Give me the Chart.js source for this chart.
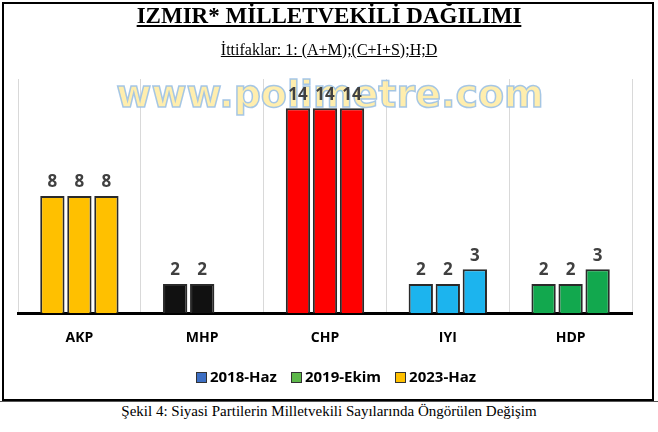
<!DOCTYPE html>
<html>
<head>
<meta charset="utf-8">
<script src="https://cdn.jsdelivr.net/npm/chart.js@4"></script>
<style>
  body { margin: 0; width: 658px; height: 432px; background: #fff; position: relative; overflow: hidden; }
  #frame { position: absolute; left: 2px; top: 2px; width: 648px; height: 395px; border: 2px solid #000; }
  #rule { position: absolute; left: 0; top: 401px; width: 658px; border-top: 1px solid #555; }
  .serif { font-family: "Liberation Serif", "DejaVu Serif", serif; position: absolute; left: 0; width: 658px; text-align: center; }
  #title { top: 3px; font-size: 23px; font-weight: bold; text-decoration: underline; }
  #sub { top: 41px; font-size: 16px; text-decoration: underline; }
  #caption { top: 403px; font-size: 15px; }
  #chartBox { position: absolute; left: 0; top: 0; width: 658px; height: 376px; }
  #legend { position: absolute; top: 366px; left: 0; width: 658px; text-align: center; font: bold 15px "Open Sans", sans-serif; }
  #legend span.sq { display: inline-block; width: 9px; height: 9px; border: 1px solid #333; margin: 0 3px 0 14px; vertical-align: -1px; }
</style>
</head>
<body>
<div id="frame"></div>
<div id="rule"></div>
<div id="chartBox"><canvas id="chart"></canvas></div>
<div class="serif" id="title">IZMIR* MİLLETVEKİLİ DAĞILIMI</div>
<div class="serif" id="sub">İttifaklar: 1: (A+M);(C+I+S);H;D</div>
<div id="legend"></div>
<div class="serif" id="caption">Şekil 4: Siyasi Partilerin Milletvekili Sayılarında Öngörülen Değişim</div>
<script>
const parties = ["AKP", "MHP", "CHP", "IYI", "HDP"];
const seriesNames = ["2018-Haz", "2019-Ekim", "2023-Haz"];
const seats2018 = [8, 2, 14, 2, 2];
const seats2019 = [8, 2, 14, 2, 2];
const seats2023 = [8, null, 14, 3, 3];
const partyColors = ["#FFC000", "#111111", "#FF0000", "#1CB4EE", "#12A84E"];
const legendColors = ["#3D6FC4", "#5DB84A", "#FFC000"];

document.getElementById('legend').innerHTML = seriesNames.map((n, i) =>
  `<span class="sq" style="background:${legendColors[i]}"></span>${n}`).join('');

const valueLabels = {
  id: 'valueLabels',
  afterDatasetsDraw(chart) {
    const ctx = chart.ctx;
    ctx.save();
    ctx.font = 'bold 17px "Open Sans", sans-serif';
    ctx.fillStyle = '#404040';
    ctx.textAlign = 'center';
    ctx.textBaseline = 'bottom';
    chart.data.datasets.forEach((ds, di) => {
      chart.getDatasetMeta(di).data.forEach((bar, i) => {
        if (ds.data[i] == null) return;
        ctx.fillText(ds.data[i], bar.x, bar.y - 5);
      });
    });
    ctx.restore();
  }
};

const watermark = {
  id: 'watermark',
  beforeDatasetsDraw(chart) {
    const ctx = chart.ctx;
    ctx.save();
    ctx.font = 'bold 38px "DejaVu Sans", sans-serif';
    ctx.textAlign = 'center';
    ctx.textBaseline = 'middle';
    ctx.fillStyle = 'rgba(255,235,160,0.85)';
    ctx.strokeStyle = 'rgba(150,190,230,0.85)';
    ctx.lineWidth = 1.5;
    ctx.fillText('www.polimetre.com', 330, 97);
    ctx.strokeText('www.polimetre.com', 330, 97);
    ctx.restore();
  }
};

const data = {
  labels: parties,
  datasets: [seats2018, seats2019, seats2023].map((vals, i) => ({
    label: seriesNames[i],
    data: vals,
    backgroundColor: partyColors,
    borderColor: '#2a2a2a',
    borderWidth: 2,
    barPercentage: 0.9,
    categoryPercentage: 0.66
  }))
};

new Chart(document.getElementById('chart'), {
  type: 'bar',
  data: data,
  options: {
    responsive: true,
    maintainAspectRatio: false,
    animation: false,
    layout: { padding: { top: 79, left: 18, right: 26, bottom: 14 } },
    plugins: { legend: { display: false }, tooltip: { enabled: false } },
    scales: {
      x: {
        grid: { color: '#d9d9d9', offset: true, drawTicks: false },
        border: { color: '#000', width: 3 },
        ticks: { color: '#000', font: { family: 'Open Sans', size: 14, weight: 'bold' }, padding: 16 }
      },
      y: { display: false, min: 0, max: 16 }
    }
  },
  plugins: [watermark, valueLabels]
});
</script>
</body>
</html>
